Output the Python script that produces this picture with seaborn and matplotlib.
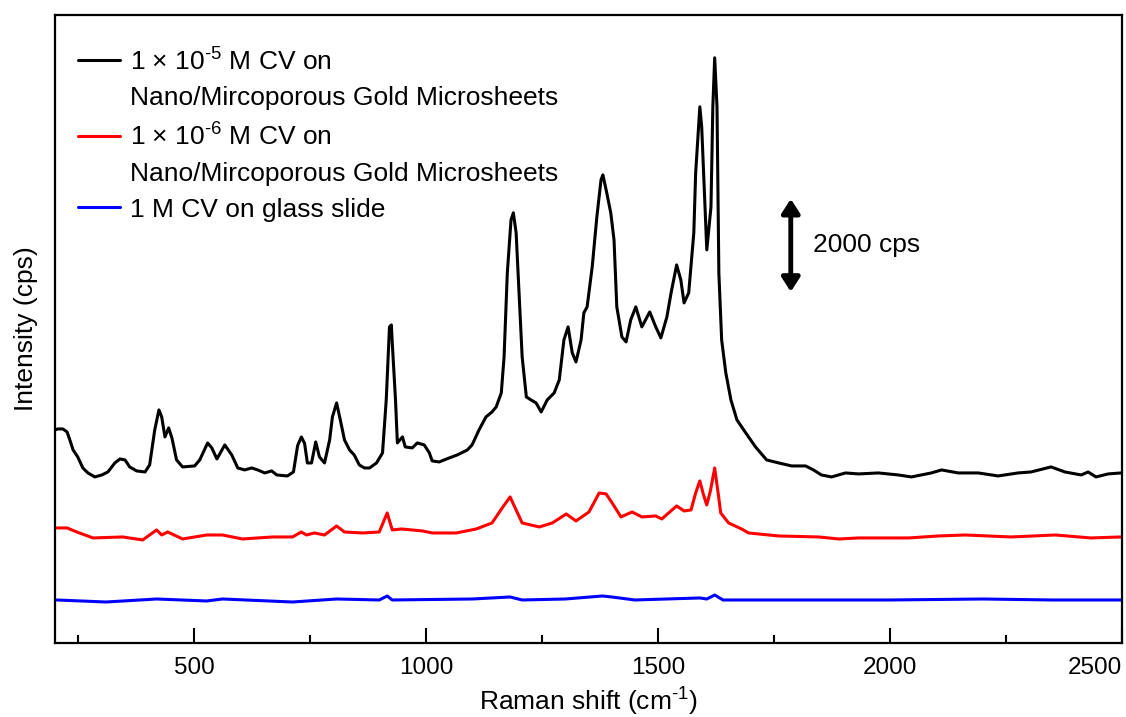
import matplotlib
matplotlib.use("Agg")
import pandas as pd
import matplotlib.pyplot as plt
from matplotlib.lines import Line2D
from matplotlib.ticker import MultipleLocator
import seaborn as sns


# ─── Data (vertical offsets already applied) ─────────────────────────────────

shift_1e5 = [200, 206, 217, 226, 232, 239, 249, 260, 271, 286,
             301, 314, 329, 340, 351, 361, 376, 394, 404, 415,
             424, 430, 437, 445, 452, 462, 475, 501, 512, 529,
             538, 549, 566, 581, 594, 609, 624, 637, 652, 667,
             678, 701, 714, 723, 731, 738, 744, 753, 762, 770,
             781, 792, 798, 807, 815, 824, 835, 845, 856, 867,
             878, 893, 906, 914, 921, 925, 927, 934, 938, 949,
             955, 970, 981, 996, 1007, 1013, 1028, 1050, 1067, 1089,
             1099, 1114, 1129, 1142, 1151, 1162, 1168, 1175, 1183, 1188,
             1194, 1200, 1207, 1216, 1226, 1237, 1248, 1261, 1276, 1287,
             1297, 1306, 1315, 1323, 1334, 1340, 1347, 1358, 1368, 1377,
             1381, 1388, 1398, 1405, 1411, 1422, 1431, 1441, 1452, 1465,
             1482, 1495, 1506, 1519, 1528, 1540, 1549, 1556, 1566, 1577,
             1581, 1590, 1594, 1601, 1605, 1614, 1618, 1622, 1627, 1631,
             1637, 1646, 1657, 1670, 1689, 1710, 1734, 1760, 1788, 1818,
             1835, 1852, 1874, 1904, 1932, 1975, 2018, 2046, 2089, 2111,
             2147, 2190, 2233, 2276, 2304, 2347, 2377, 2412, 2427, 2444,
             2470, 2498]
int_1e5 = [4750, 4772, 4772, 4705, 4527, 4304, 4148, 3902, 3791, 3702,
           3746, 3813, 4014, 4103, 4081, 3925, 3836, 3813, 3969, 4750,
           5196, 5040, 4594, 4795, 4572, 4081, 3925, 3947, 4081, 4460,
           4349, 4103, 4415, 4192, 3902, 3858, 3902, 3858, 3791, 3836,
           3746, 3724, 3813, 4400, 4594, 4450, 4014, 4014, 4482, 4148,
           4014, 4527, 5040, 5352, 4973, 4527, 4304, 4192, 3969, 3902,
           3902, 4014, 4237, 5419, 7047, 7091, 6690, 5419, 4460, 4594,
           4371, 4349, 4460, 4415, 4237, 4059, 4036, 4126, 4192, 4304,
           4415, 4750, 5040, 5151, 5263, 5575, 6378, 8251, 9433, 9589,
           9143, 7872, 6378, 5486, 5419, 5352, 5151, 5419, 5575, 5865,
           6757, 7047, 6467, 6266, 6757, 7359, 7493, 8385, 9500, 10325,
           10436, 10102, 9589, 8987, 7493, 6824, 6712, 7203, 7493, 7047,
           7381, 7047, 6802, 7270, 7805, 8429, 8095, 7582, 7805, 9143,
           10481, 11953, 11507, 9723, 8764, 9723, 11953, 13046, 11953, 8251,
           6757, 6021, 5419, 4973, 4683, 4371, 4081, 4014, 3947, 3947,
           3858, 3746, 3702, 3791, 3769, 3791, 3746, 3702, 3791, 3858,
           3791, 3791, 3724, 3791, 3813, 3925, 3813, 3746, 3813, 3702,
           3769, 3791]

shift_1e6 = [204, 226, 247, 282, 346, 389, 419, 430, 443, 475,
             527, 561, 604, 669, 712, 731, 742, 759, 781, 807,
             824, 863, 899, 916, 927, 947, 992, 1013, 1065, 1108,
             1142, 1164, 1181, 1194, 1207, 1244, 1272, 1302, 1323, 1351,
             1373, 1388, 1401, 1420, 1444, 1465, 1495, 1508, 1530, 1540,
             1556, 1571, 1581, 1590, 1598, 1605, 1613, 1622, 1630, 1635,
             1652, 1680, 1695, 1760, 1846, 1890, 1932, 2040, 2104, 2162,
             2261, 2356, 2433, 2498]
int_1e6 = [2565, 2565, 2475, 2342, 2364, 2297, 2520, 2408, 2475, 2319,
           2408, 2408, 2319, 2364, 2364, 2475, 2408, 2453, 2408, 2609,
           2475, 2453, 2475, 2899, 2520, 2542, 2498, 2453, 2453, 2542,
           2676, 3011, 3256, 2966, 2676, 2587, 2676, 2877, 2721, 2921,
           3345, 3323, 3122, 2810, 2921, 2810, 2832, 2765, 2966, 3055,
           2944, 2966, 3345, 3613, 3300, 3077, 3400, 3903, 3300, 2899,
           2676, 2542, 2453, 2386, 2364, 2319, 2342, 2342, 2386, 2408,
           2364, 2408, 2342, 2364]

shift_glass = [204, 310, 419, 527, 561, 712, 807, 899, 916, 927,
               1100, 1181, 1207, 1300, 1380, 1400, 1450, 1590, 1605, 1622,
               1640, 1800, 2000, 2200, 2350, 2498]
int_glass = [959, 914, 981, 937, 981, 914, 981, 959, 1048, 959,
             981, 1026, 959, 981, 1048, 1026, 959, 1004, 981, 1070,
             959, 959, 959, 981, 959, 959]

x_major = [500, 1000, 1500, 2000, 2500]

series_names = ["1e-5 M CV, NPG", "1e-6 M CV, NPG", "1 M CV, glass"]
series_colors = ["#000000", "#ff0000", "#0000ff"]
legend_lines = [
    r"1 × 10$^{\text{-5}}$ M CV on",
    "Nano/Mircoporous Gold Microsheets",
    r"1 × 10$^{\text{-6}}$ M CV on",
    "Nano/Mircoporous Gold Microsheets",
    "1 M CV on glass slide",
]

# ─── Build long table ─────────────────────────────────────────────────────────

df = pd.concat([
    pd.DataFrame({"shift": shift_1e5, "intensity": int_1e5, "series": series_names[0]}),
    pd.DataFrame({"shift": shift_1e6, "intensity": int_1e6, "series": series_names[1]}),
    pd.DataFrame({"shift": shift_glass, "intensity": int_glass, "series": series_names[2]}),
], ignore_index=True)

# ─── Plot ─────────────────────────────────────────────────────────────────────

sns.set_theme(style="ticks")
plt.rcParams["font.family"] = ["Liberation Sans", "DejaVu Sans"]
plt.rcParams["mathtext.fontset"] = "custom"
plt.rcParams["mathtext.rm"] = "Liberation Sans"
plt.rcParams["text.color"] = "black"
plt.rcParams["axes.labelcolor"] = "black"
plt.rcParams["xtick.color"] = "black"
plt.rcParams["xtick.labelcolor"] = "black"

fig = plt.figure(figsize=(11.26, 7.17), dpi=100)
ax = fig.add_axes([55 / 1126, 74 / 717, 1067 / 1126, 628 / 717])

sns.lineplot(
    data=df, x="shift", y="intensity", hue="series",
    palette=dict(zip(series_names, series_colors)),
    estimator=None, sort=False, linewidth=2.2, legend=False, ax=ax,
)

ax.set_xlim(200, 2500)
ax.set_ylim(0, 14000)
ax.set_yticks([])
ax.set_xticks(x_major)
ax.xaxis.set_minor_locator(MultipleLocator(250))
ax.tick_params(axis="x", which="major", direction="in", length=11, width=1.5,
               pad=10, labelsize=17.5, top=False, colors="black")
ax.tick_params(axis="x", which="minor", direction="in", length=6, width=1.5, top=False)
for sp in ax.spines.values():
    sp.set_visible(True)
    sp.set_linewidth(1.6)
    sp.set_color("black")

ax.set_xlabel(r"Raman shift (cm$^{\text{-1}}$)", fontsize=19, labelpad=4)
ax.set_ylabel("Intensity (cps)", fontsize=19, labelpad=12)

# last tick label sits inside the frame, right-aligned to the spine
ax.xaxis.get_major_ticks()[-1].label1.set_horizontalalignment("right")

# scale bar: 2000 cps
ax.annotate("", xy=(1786, 7830), xytext=(1786, 9900),
            arrowprops=dict(arrowstyle="<|-|>,head_length=0.7,head_width=0.45",
                            color="black", lw=3.5, shrinkA=0, shrinkB=0))
ax.text(1835, 8875, "2000 cps", fontsize=19, ha="left", va="center")

# legend: first line of each label carries the line key
handles = [
    Line2D([], [], color=series_colors[0], lw=2.2),
    Line2D([], [], color="none"),
    Line2D([], [], color=series_colors[1], lw=2.2),
    Line2D([], [], color="none"),
    Line2D([], [], color=series_colors[2], lw=2.2),
]
ax.legend(handles, legend_lines, loc="upper left", bbox_to_anchor=(0.0216, 0.95),
          frameon=False, fontsize=19, borderpad=0, borderaxespad=0,
          handlelength=1.6, handletextpad=0.38, labelspacing=0.45)

fig.savefig("out.png", dpi=100)
